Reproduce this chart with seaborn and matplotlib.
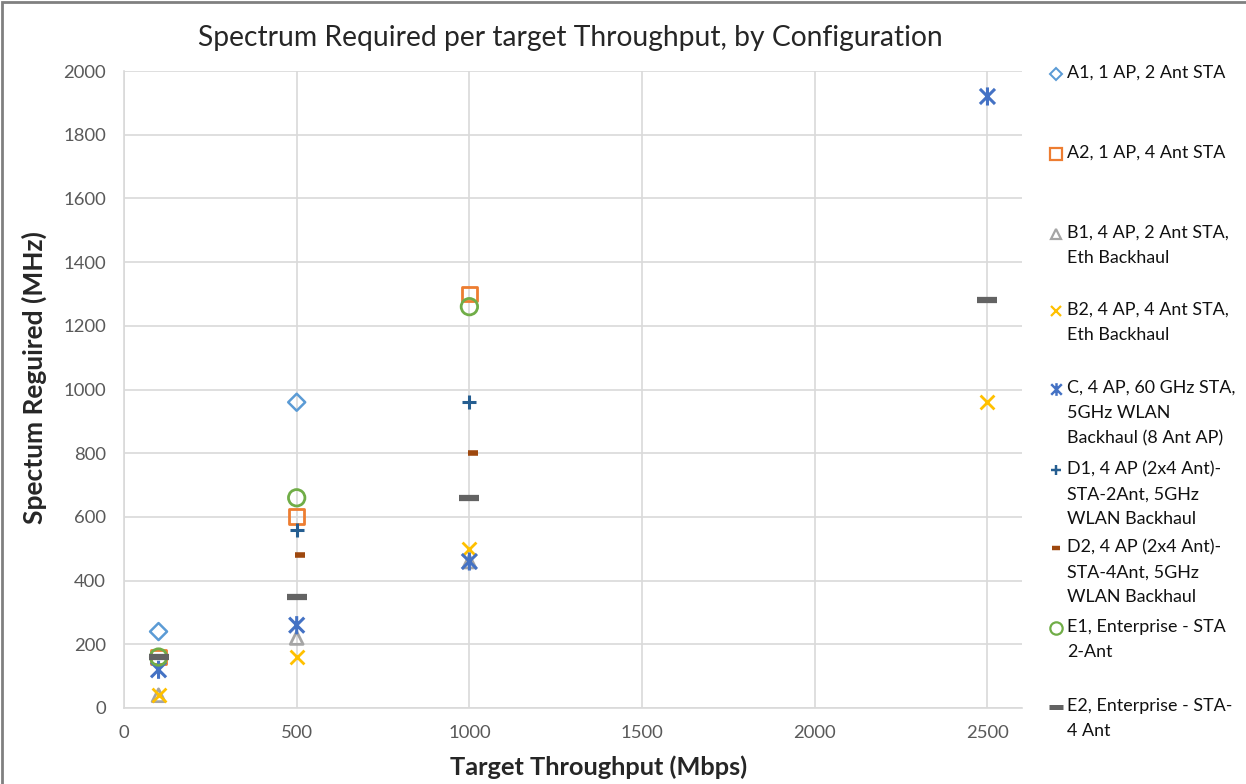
import matplotlib
matplotlib.use("Agg")
import matplotlib.pyplot as plt
from matplotlib.patches import Rectangle
from matplotlib.lines import Line2D
from matplotlib.path import Path
import seaborn as sns

# ── Data ──────────────────────────────────────
A1_X = [100, 500]
A1_Y = [240, 960]
A2_X = [100, 500, 1000]
A2_Y = [160, 600, 1300]
B1_X = [100, 500, 1000]
B1_Y = [40, 220, 460]
B2_X = [100, 500, 1000, 2500]
B2_Y = [40, 160, 500, 960]
C_X = [100, 500, 1000, 2500]
C_Y = [120, 260, 460, 1920]
D1_X = [500, 1000]
D1_Y = [560, 960]
D2_X = [510, 1010]
D2_Y = [480, 800]
E1_X = [100, 500, 1000]
E1_Y = [160, 660, 1260]
E2_X = [100, 500, 1000, 2500]
E2_Y = [160, 350, 660, 1280]

LABELS = [
    "A1, 1 AP, 2 Ant STA",
    "A2, 1 AP, 4 Ant STA",
    "B1, 4 AP, 2 Ant STA,\nEth Backhaul",
    "B2, 4 AP, 4 Ant STA,\nEth Backhaul",
    "C, 4 AP, 60 GHz STA,\n5GHz WLAN\nBackhaul (8 Ant AP)",
    "D1, 4 AP (2x4 Ant)-\nSTA-2Ant, 5GHz\nWLAN Backhaul",
    "D2, 4 AP (2x4 Ant)-\nSTA-4Ant, 5GHz\nWLAN Backhaul",
    "E1, Enterprise - STA\n2-Ant",
    "E2, Enterprise - STA-\n4 Ant",
]
X_TICKS = [0, 500, 1000, 1500, 2000, 2500]
Y_TICKS = [0, 200, 400, 600, 800, 1000, 1200, 1400, 1600, 1800, 2000]

# Excel's "star" marker: an x with a vertical stroke
STAR = Path([(-1, -1), (1, 1), (-1, 1), (1, -1), (0, -1.2), (0, 1.2)],
            [Path.MOVETO, Path.LINETO] * 3)

# marker, color, size, line width, drawn hollow (edge only)
STYLES = [
    ("D", "#5B9BD5", 75, 1.8, True),
    ("s", "#ED7D31", 115, 2.0, True),
    ("^", "#A5A5A5", 85, 2.0, True),
    ("x", "#FFC000", 100, 2.0, False),
    (STAR, "#4472C4", 170, 2.2, True),
    ("+", "#255E91", 100, 2.2, False),
    ("_", "#9E480E", 50, 4.0, False),
    ("o", "#70AD47", 140, 2.0, True),
    ("_", "#636363", 190, 4.5, False),
]
SERIES = [(A1_X, A1_Y), (A2_X, A2_Y), (B1_X, B1_Y), (B2_X, B2_Y), (C_X, C_Y),
          (D1_X, D1_Y), (D2_X, D2_Y), (E1_X, E1_Y), (E2_X, E2_Y)]

sns.set_theme(style="white")
plt.rcParams["font.family"] = ["Lato", "DejaVu Sans"]

W, H = 1246, 784
fig = plt.figure(figsize=(W / 100, H / 100), dpi=100, facecolor="white")
ax = fig.add_axes([124 / W, 1 - 708 / H, (1022 - 124) / W, (708 - 71) / H])

for (xs, ys), (mk, col, s, lw, hollow) in zip(SERIES, STYLES):
    if hollow:
        sns.scatterplot(x=xs, y=ys, ax=ax, marker=mk, s=s, linewidth=lw,
                        facecolor="none", edgecolor=col, zorder=3)
    else:
        sns.scatterplot(x=xs, y=ys, ax=ax, marker=mk, s=s, linewidth=lw,
                        color=col, zorder=3)

ax.set_xlim(0, 2600)
ax.set_ylim(0, 2000)
ax.set_xticks(X_TICKS)
ax.set_yticks(Y_TICKS)
ax.grid(True, color="#D9D9D9", linewidth=1.2)
ax.set_axisbelow(True)
for side in ["top", "right"]:
    ax.spines[side].set_visible(False)
for side in ["left", "bottom"]:
    ax.spines[side].set_color("#D9D9D9")
    ax.spines[side].set_linewidth(1.2)
ax.tick_params(length=0, labelsize=13.3, labelcolor="#595959")
ax.tick_params(axis="y", pad=13)
ax.tick_params(axis="x", pad=12)

ax.set_xlabel("Target Throughput (Mbps)", fontsize=18.3, fontweight="bold")
ax.set_ylabel("Spectum Reguired (MHz)", fontsize=19, fontweight="bold")
ax.xaxis.set_label_coords(0.528, -0.075)
ax.yaxis.set_label_coords(-0.086, 0.518)

fig.text(570 / W, 1 - 38 / H, "Spectrum Required per target Throughput, by Configuration",
         fontsize=20.3, ha="center", va="center")

# ── Legend (hand-placed, Excel spaces entries evenly) ──
LEG_Y = [74, 154, 234, 311, 389, 470, 548, 628, 707]
for (mk, col, s, lw, hollow), lab, py in zip(STYLES, LABELS, LEG_Y):
    ms = (s ** 0.5) * (0.7 if mk is STAR else 0.75)
    fig.add_artist(Line2D([1056 / W], [1 - py / H], transform=fig.transFigure,
                          marker=mk, markersize=ms, markeredgewidth=lw * 0.8,
                          markerfacecolor="none", markeredgecolor=col,
                          linestyle="none"))
    fig.text(1067 / W, 1 - (py - 9) / H, lab, fontsize=12.9, va="top",
             ha="left", linespacing=1.7, color="#111111")

# figure border (only left/top edge visible in the crop)
fig.add_artist(Rectangle((0.0015, -0.1), 1.2, 1.0975, transform=fig.transFigure,
                         fill=False, edgecolor="#808080", linewidth=2))

fig.savefig("out.png", dpi=100, facecolor="white")
